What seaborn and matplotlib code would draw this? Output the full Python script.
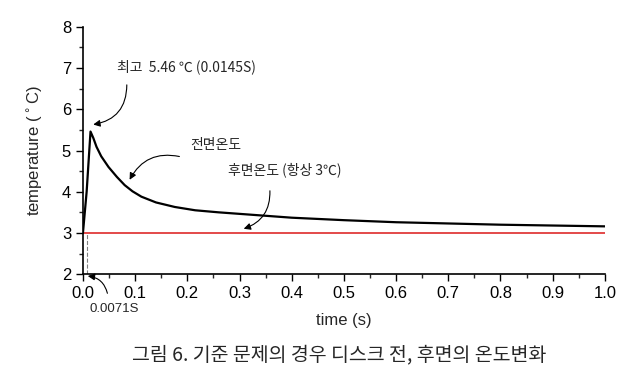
import numpy as np
import pandas as pd
import matplotlib
matplotlib.use("Agg")
import matplotlib.pyplot as plt
import seaborn as sns
from matplotlib.ticker import MultipleLocator, FormatStrFormatter

# front face temperature
time_front = [0.0, 0.0071, 0.0145, 0.02, 0.026, 0.035, 0.049, 0.065, 0.08, 0.095, 0.112, 0.14,
              0.176, 0.215, 0.26, 0.314, 0.4, 0.5, 0.6, 0.7, 0.8, 0.9, 1.0]
temp_front = [3.0, 4.0, 5.46, 5.3, 5.09, 4.86, 4.6, 4.36, 4.16, 4.01, 3.88, 3.74,
              3.63, 3.55, 3.5, 3.45, 3.37, 3.31, 3.26, 3.23, 3.2, 3.18, 3.16]

# back face temperature (constant)
time_back = [0.0, 1.0]
temp_back = [3.0, 3.0]

peak_time = 0.0145
peak_temp = 5.46
onset_time = 0.0071

sns.set_theme(style="ticks")
plt.rcParams['font.family'] = ['Liberation Sans', 'Noto Sans CJK KR', 'DejaVu Sans']
kr = ['Noto Sans CJK KR', 'DejaVu Sans']

fig = plt.figure(figsize=(6.38, 3.68), dpi=100)
ax = fig.add_axes([0.130, 0.255, 0.818, 0.672])

df_front = pd.DataFrame({'time': time_front, 'temp': temp_front})
df_back = pd.DataFrame({'time': time_back, 'temp': temp_back})

sns.lineplot(data=df_back, x='time', y='temp', color='#e03a3a', linewidth=1.3, ax=ax)
sns.lineplot(data=df_front, x='time', y='temp', color='black', linewidth=1.6, ax=ax)

# dashed marker at onset
ax.plot([onset_time, onset_time], [2, 3], color='gray', linestyle='--', linewidth=0.8)

ax.set_xlim(0, 1.0)
ax.set_ylim(2, 8)
ax.xaxis.set_major_locator(MultipleLocator(0.1))
ax.xaxis.set_minor_locator(MultipleLocator(0.05))
ax.xaxis.set_major_formatter(FormatStrFormatter('%.1f'))
ax.yaxis.set_major_locator(MultipleLocator(1))
ax.yaxis.set_minor_locator(MultipleLocator(0.5))
ax.tick_params(which='major', direction='out', length=5, width=1, labelsize=12, colors='black')
ax.tick_params(which='minor', direction='out', length=3, width=1)
sns.despine(ax=ax)
for s in ['left', 'bottom']:
    ax.spines[s].set_color('black')
    ax.spines[s].set_linewidth(1.2)

ax.set_xlabel('time (s)', fontsize=12, labelpad=9)
ax.set_ylabel('temperature ($^\\circ$C)', fontsize=12, labelpad=12)

arrow = dict(arrowstyle='-|>', color='black', lw=0.8, mutation_scale=10)

# peak
ax.text(0.065, 7.03, '최고  5.46 ℃ (0.0145S)', fontsize=10, family=kr, va='center')
ax.annotate('', xy=(peak_time, 5.62), xytext=(0.084, 6.66),
            arrowprops=dict(arrow, connectionstyle='arc3,rad=-0.45'))

# front face
ax.text(0.205, 5.13, '전면온도', fontsize=10, family=kr, va='center')
ax.annotate('', xy=(0.087, 4.23), xytext=(0.19, 4.84),
            arrowprops=dict(arrow, connectionstyle='arc3,rad=0.4'))

# back face
ax.text(0.278, 4.53, '후면온도 (항상 3℃)', fontsize=10, family=kr, va='center')
ax.annotate('', xy=(0.303, 3.08), xytext=(0.358, 4.09),
            arrowprops=dict(arrow, connectionstyle='arc3,rad=-0.4'))

# onset
ax.text(0.013, 1.15, '0.0071S', fontsize=9.5, va='center', clip_on=False)
ax.annotate('', xy=(0.004, 1.96), xytext=(0.048, 1.47), annotation_clip=False,
            arrowprops=dict(arrow, connectionstyle='arc3,rad=0.4'))

fig.text(0.532, 0.036, '그림 6. 기준 문제의 경우 디스크 전, 후면의 온도변화', fontsize=14,
         family=kr, ha='center', va='center')

fig.savefig('out.png', dpi=100)
